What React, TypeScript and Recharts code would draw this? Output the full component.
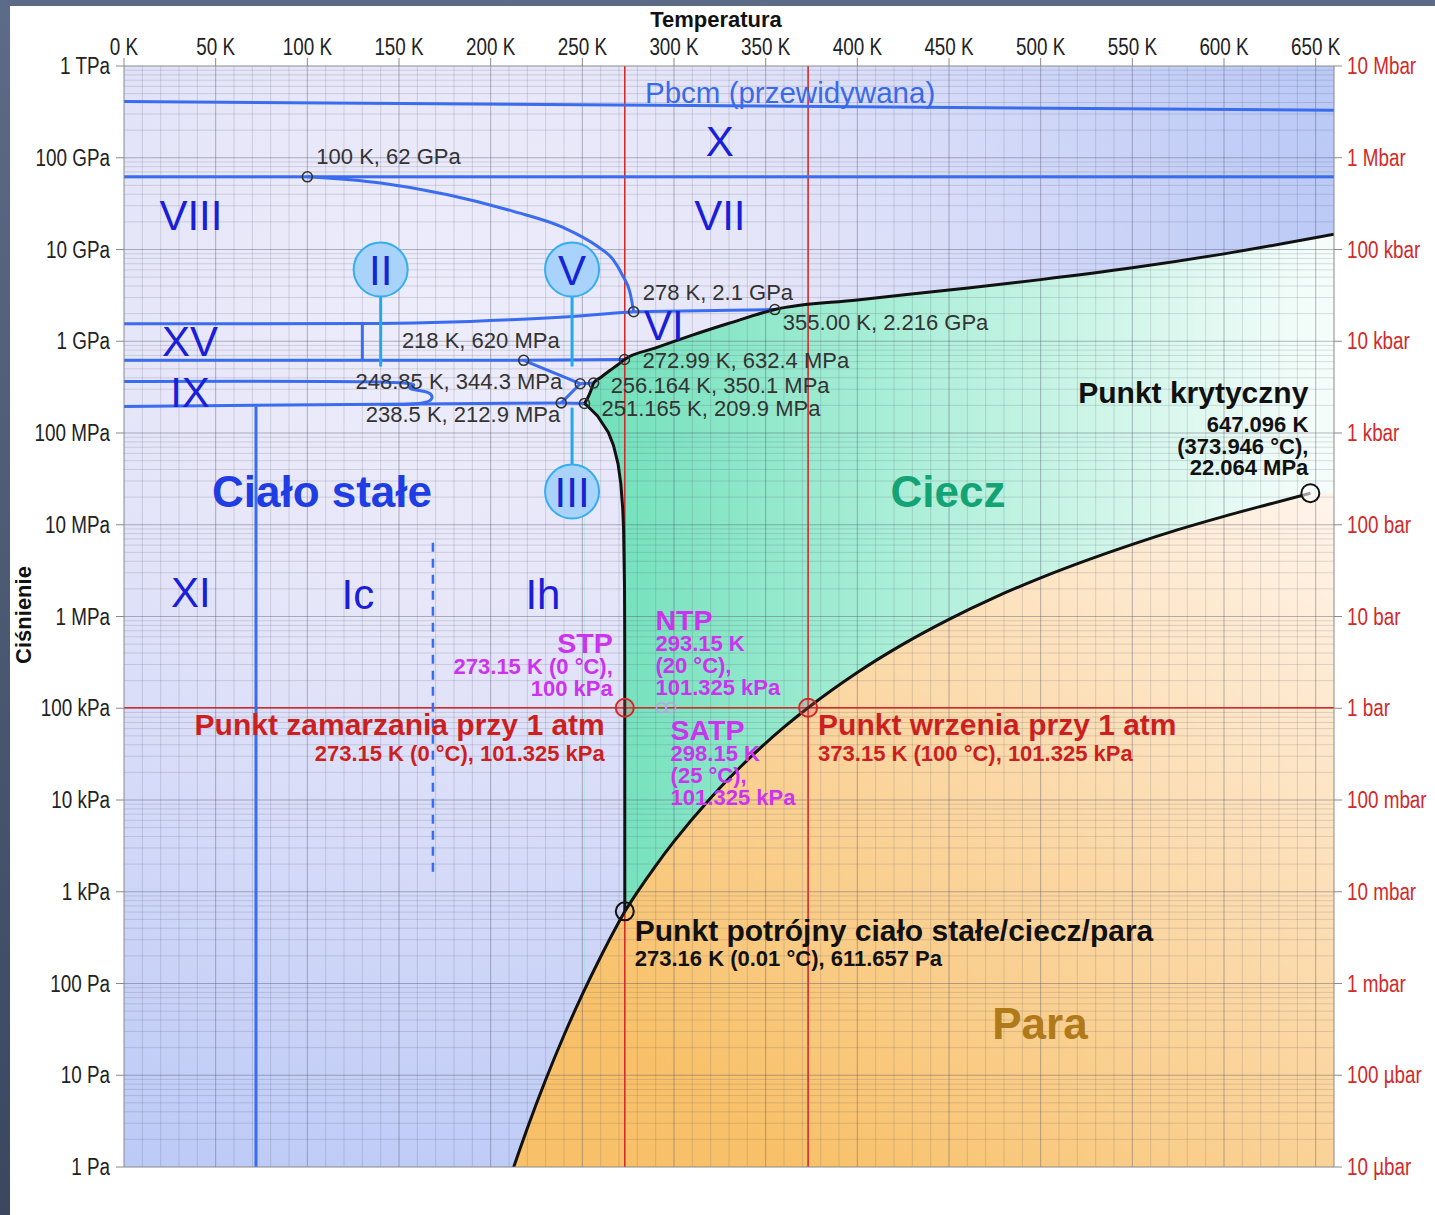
import React from "react";
import {
  ComposedChart,
  XAxis,
  YAxis,
  Line,
  Area,
  Scatter,
  ReferenceLine,
  ReferenceArea,
} from "recharts";

const W = 1435;
const H = 1215;
const SANS = '"Liberation Sans", Arial, sans-serif';

// axes: temperature in K (top) and °C (bottom), pressure in Pa (left) and bar (right)
const kelvinTicks = [0, 50, 100, 150, 200, 250, 300, 350, 400, 450, 500, 550, 600, 650];
const celsiusTicks = [-250, -200, -150, -100, -50, 0, 50, 100, 150, 200, 250, 300, 350];
const pascalTicks = [1, 1e1, 1e2, 1e3, 1e4, 1e5, 1e6, 1e7, 1e8, 1e9, 1e10, 1e11, 1e12];
const pascalLabels = [
  "1 Pa", "10 Pa", "100 Pa", "1 kPa", "10 kPa", "100 kPa", "1 MPa",
  "10 MPa", "100 MPa", "1 GPa", "10 GPa", "100 GPa", "1 TPa",
];
const barTicks = [1e-5, 1e-4, 1e-3, 1e-2, 1e-1, 1, 1e1, 1e2, 1e3, 1e4, 1e5, 1e6, 1e7];
const barLabels = [
  "10 µbar", "100 µbar", "1 mbar", "10 mbar", "100 mbar", "1 bar", "10 bar",
  "100 bar", "1 kbar", "10 kbar", "100 kbar", "1 Mbar", "10 Mbar",
];

// ice Ih sublimation curve (t in K, p in Pa)
const sublimationCurve = [
  { t: 200, p: 0.162 },
  { t: 210, p: 0.701 },
  { t: 220, p: 2.65 },
  { t: 230, p: 8.94 },
  { t: 240, p: 27.3 },
  { t: 250, p: 76.0 },
  { t: 260, p: 195.8 },
  { t: 270, p: 470.1 },
  { t: 273.16, p: 611.657 },
];

// liquid / vapour curve up to the critical point
const boilingCurve = [
  { t: 273.16, p: 611.657 },
  { t: 280, p: 991.8 },
  { t: 290, p: 1920 },
  { t: 300, p: 3537 },
  { t: 320, p: 10546 },
  { t: 340, p: 27188 },
  { t: 360, p: 62194 },
  { t: 373.15, p: 101325 },
  { t: 400, p: 245770 },
  { t: 425, p: 500280 },
  { t: 450, p: 932200 },
  { t: 475, p: 1.6175e6 },
  { t: 500, p: 2.6392e6 },
  { t: 525, p: 4.0927e6 },
  { t: 550, p: 6.1172e6 },
  { t: 575, p: 8.8428e6 },
  { t: 600, p: 12.345e6 },
  { t: 625, p: 16.84e6 },
  { t: 647.096, p: 22.064e6 },
];
const supercriticalEdge = [{ t: 660, p: 22.064e6 }];

// melting curve of ice Ih, from the III triple point down to the solid/liquid/vapour point
const meltIh = [
  { t: 251.165, p: 209.9e6 },
  { t: 252.4, p: 200.5e6 },
  { t: 258.3, p: 153.7e6 },
  { t: 264.2, p: 101.4e6 },
  { t: 267.0, p: 73.3e6 },
  { t: 269.5, p: 45.8e6 },
  { t: 271.0, p: 27.9e6 },
  { t: 272.0, p: 15.3e6 },
  { t: 272.5, p: 8.82e6 },
  { t: 273.0, p: 2.16e6 },
  { t: 273.1, p: 0.814e6 },
  { t: 273.15, p: 101325 },
  { t: 273.16, p: 611.657 },
];

// melting curves of ices III, V, VI, VII
const meltIII = [
  { t: 251.165, p: 209.9e6 },
  { t: 253, p: 242.8e6 },
  { t: 254, p: 268.7e6 },
  { t: 255, p: 301.3e6 },
  { t: 256.164, p: 350.1e6 },
];
const meltV = [
  { t: 260, p: 402.6e6 },
  { t: 265, p: 479.6e6 },
  { t: 270, p: 567.6e6 },
  { t: 272.99, p: 632.4e6 },
];
const meltVI = [
  { t: 290, p: 845.5e6 },
  { t: 310, p: 1.166e9 },
  { t: 330, p: 1.57e9 },
  { t: 355, p: 2.216e9 },
];
const meltVII = [
  { t: 400, p: 2.817e9 },
  { t: 450, p: 3.619e9 },
  { t: 500, p: 4.696e9 },
  { t: 550, p: 6.309e9 },
  { t: 600, p: 8.964e9 },
  { t: 660, p: 14.67e9 },
];
const liquidTop = [...meltIII, ...meltV, ...meltVI, ...meltVII];
const vaporTop = [...sublimationCurve, ...boilingCurve.slice(1), ...supercriticalEdge];

// solid–solid boundaries
const pbcmBoundary = [{ t: 0, p: 4.1e11 }, { t: 660, p: 3.3e11 }];
const xViiBoundary = [{ t: 0, p: 62e9 }, { t: 660, p: 62e9 }];
const viiiViiCurve = [
  { t: 100, p: 62e9 },
  { t: 140, p: 53e9 },
  { t: 176, p: 39.8e9 },
  { t: 212, p: 26.2e9 },
  { t: 239.5, p: 17.4e9 },
  { t: 258, p: 10.9e9 },
  { t: 266.7, p: 7.8e9 },
  { t: 272.2, p: 5.1e9 },
  { t: 276, p: 3.4e9 },
  { t: 278, p: 2.1e9 },
];
const viiiViBoundary = [
  { t: 0, p: 1.55e9 },
  { t: 130, p: 1.56e9 },
  { t: 211, p: 1.72e9 },
  { t: 250, p: 1.9e9 },
  { t: 268, p: 2.03e9 },
  { t: 278, p: 2.1e9 },
];
const viViiBoundary = [{ t: 278, p: 2.1e9 }, { t: 355, p: 2.216e9 }];
const xvEdge = [{ t: 130, p: 1.56e9 }, { t: 130, p: 620e6 }];
const xvViBoundary = [{ t: 0, p: 620e6 }, { t: 218, p: 620e6 }, { t: 272.99, p: 632.4e6 }];
const iiVBoundary = [{ t: 218, p: 620e6 }, { t: 248.85, p: 344.3e6 }];
const iiiVBoundary = [{ t: 248.85, p: 344.3e6 }, { t: 256.164, p: 350.1e6 }];
const iiIiiBoundary = [{ t: 248.85, p: 344.3e6 }, { t: 238.5, p: 212.9e6 }];
const ihIiiBoundary = [{ t: 238.5, p: 212.9e6 }, { t: 251.165, p: 209.9e6 }];
const ihIiBoundary = [{ t: 0, p: 195e6 }, { t: 238.5, p: 212.9e6 }];
const ixIiBoundary = [
  { t: 0, p: 365e6 },
  { t: 140, p: 360e6 },
  { t: 156, p: 313e6 },
  { t: 164, p: 283e6 },
  { t: 168, p: 243e6 },
  { t: 164, p: 215e6 },
  { t: 153, p: 205e6 },
  { t: 140, p: 204e6 },
];
const xiIhBoundary = [{ t: 72, p: 0.5 }, { t: 72, p: 196e6 }];
const icIhBoundary = [{ t: 168.5, p: 1.65e3 }, { t: 168.5, p: 6.9e6 }];

// pointer stems of the circled phase names
const iiStem = [{ t: 140, p: 3.07e9 }, { t: 140, p: 530e6 }];
const vStem = [{ t: 244.4, p: 3.07e9 }, { t: 244.4, p: 530e6 }];
const iiiStem = [{ t: 244.4, p: 189e6 }, { t: 244.4, p: 40e6 }];

// marked points
const phasePoints = [
  { t: 100, p: 62e9 },
  { t: 278, p: 2.1e9 },
  { t: 355, p: 2.216e9 },
  { t: 218, p: 620e6 },
  { t: 272.99, p: 632.4e6 },
  { t: 248.85, p: 344.3e6 },
  { t: 256.164, p: 350.1e6 },
  { t: 238.5, p: 212.9e6 },
  { t: 251.165, p: 209.9e6 },
];
const triplePoint = [{ t: 273.16, p: 611.657 }];
const criticalPoint = [{ t: 647.096, p: 22.064e6 }];
const atmPoints = [{ t: 273.15, p: 101325 }, { t: 373.15, p: 101325 }];
const referenceStates = [{ t: 293.15, p: 101325 }, { t: 298.15, p: 101325 }];
const circledPhases = [
  { t: 140, p: 6.05e9, label: "II" },
  { t: 244.4, p: 6.05e9, label: "V" },
  { t: 244.4, p: 23e6, label: "III" },
];

// grid positions
const minorK = Array.from({ length: 65 }, (_, i) => (i + 1) * 10).filter((t) => t % 50 !== 0);
const majorK = kelvinTicks.slice(1);
const minorPa: number[] = [];
for (let e = 0; e < 12; e++) for (let k = 2; k <= 9; k++) minorPa.push(k * 10 ** e);
const majorPa = pascalTicks.slice(1, -1);

type NoteLine = { text: string; dy: number; size: number; bold?: boolean };
type Note = {
  t: number;
  p: number;
  dx: number;
  anchor: "start" | "middle" | "end";
  color: string;
  lines: NoteLine[];
};

const PHASE = "#1a1ed8";
const MAGENTA = "#cc33ee";
const RED = "#cc1f1f";

const notes: Note[] = [
  { t: 325, p: 1.5e11, dx: 0, anchor: "middle", color: PHASE, lines: [{ text: "X", dy: 0, size: 42 }] },
  { t: 36.5, p: 2.35e10, dx: 0, anchor: "middle", color: PHASE, lines: [{ text: "VIII", dy: 0, size: 42 }] },
  { t: 325, p: 2.35e10, dx: 0, anchor: "middle", color: PHASE, lines: [{ text: "VII", dy: 0, size: 42 }] },
  { t: 294.5, p: 1.48e9, dx: 0, anchor: "middle", color: PHASE, lines: [{ text: "VI", dy: 0, size: 42 }] },
  { t: 36, p: 9.9e8, dx: 0, anchor: "middle", color: PHASE, lines: [{ text: "XV", dy: 0, size: 42 }] },
  { t: 36, p: 2.76e8, dx: 0, anchor: "middle", color: PHASE, lines: [{ text: "IX", dy: 0, size: 42 }] },
  { t: 36.5, p: 1.82e6, dx: 0, anchor: "middle", color: PHASE, lines: [{ text: "XI", dy: 0, size: 42 }] },
  { t: 127.6, p: 1.73e6, dx: 0, anchor: "middle", color: PHASE, lines: [{ text: "Ic", dy: 0, size: 42 }] },
  { t: 228.5, p: 1.73e6, dx: 0, anchor: "middle", color: PHASE, lines: [{ text: "Ih", dy: 0, size: 42 }] },
  { t: 284.2, p: 5.15e11, dx: 0, anchor: "start", color: "#3a6ae8", lines: [{ text: "Pbcm (przewidywana)", dy: 0, size: 29.5 }] },
  { t: 108, p: 2.3e7, dx: 0, anchor: "middle", color: "#1f3de2", lines: [{ text: "Ciało stałe", dy: 0, size: 44, bold: true }] },
  { t: 449.5, p: 2.3e7, dx: 0, anchor: "middle", color: "#14a374", lines: [{ text: "Ciecz", dy: 0, size: 44, bold: true }] },
  { t: 499.6, p: 37, dx: 0, anchor: "middle", color: "#b07a1a", lines: [{ text: "Para", dy: 0, size: 44, bold: true }] },

  { t: 100, p: 62e9, dx: 9, anchor: "start", color: "#333", lines: [{ text: "100 K, 62 GPa", dy: -20, size: 22 }] },
  { t: 278, p: 2.1e9, dx: 9, anchor: "start", color: "#333", lines: [{ text: "278 K, 2.1 GPa", dy: -19, size: 22 }] },
  { t: 355, p: 2.216e9, dx: 8, anchor: "start", color: "#333", lines: [{ text: "355.00 K, 2.216 GPa", dy: 13, size: 22 }] },
  { t: 218, p: 620e6, dx: 36, anchor: "end", color: "#333", lines: [{ text: "218 K, 620 MPa", dy: -20, size: 22 }] },
  { t: 272.99, p: 632.4e6, dx: 18, anchor: "start", color: "#333", lines: [{ text: "272.99 K, 632.4 MPa", dy: 1, size: 22 }] },
  { t: 248.85, p: 344.3e6, dx: -18, anchor: "end", color: "#333", lines: [{ text: "248.85 K, 344.3 MPa", dy: -2, size: 22 }] },
  { t: 256.164, p: 350.1e6, dx: 17, anchor: "start", color: "#333", lines: [{ text: "256.164 K, 350.1 MPa", dy: 2, size: 22 }] },
  { t: 238.5, p: 212.9e6, dx: -1, anchor: "end", color: "#333", lines: [{ text: "238.5 K, 212.9 MPa", dy: 12, size: 22 }] },
  { t: 251.165, p: 209.9e6, dx: 17, anchor: "start", color: "#333", lines: [{ text: "251.165 K, 209.9 MPa", dy: 5, size: 22 }] },

  {
    t: 273.15, p: 1e5, dx: -12, anchor: "end", color: MAGENTA,
    lines: [
      { text: "STP", dy: -65, size: 28.5, bold: true },
      { text: "273.15 K (0 °C),", dy: -42, size: 22, bold: true },
      { text: "100 kPa", dy: -20, size: 22, bold: true },
    ],
  },
  {
    t: 293.15, p: 101325, dx: -6, anchor: "start", color: MAGENTA,
    lines: [
      { text: "NTP", dy: -88, size: 28.5, bold: true },
      { text: "293.15 K", dy: -64, size: 22, bold: true },
      { text: "(20 °C),", dy: -42, size: 22, bold: true },
      { text: "101.325 kPa", dy: -20, size: 22, bold: true },
    ],
  },
  {
    t: 298.15, p: 101325, dx: 0, anchor: "start", color: MAGENTA,
    lines: [
      { text: "SATP", dy: 22, size: 28.5, bold: true },
      { text: "298.15 K", dy: 46, size: 22, bold: true },
      { text: "(25 °C),", dy: 68, size: 22, bold: true },
      { text: "101.325 kPa", dy: 90, size: 22, bold: true },
    ],
  },
  {
    t: 273.15, p: 101325, dx: -20, anchor: "end", color: RED,
    lines: [
      { text: "Punkt zamarzania przy 1 atm", dy: 17, size: 30, bold: true },
      { text: "273.15 K (0 °C), 101.325 kPa", dy: 46, size: 22, bold: true },
    ],
  },
  {
    t: 373.15, p: 101325, dx: 10, anchor: "start", color: RED,
    lines: [
      { text: "Punkt wrzenia przy 1 atm", dy: 17, size: 30, bold: true },
      { text: "373.15 K (100 °C), 101.325 kPa", dy: 46, size: 22, bold: true },
    ],
  },
  {
    t: 273.16, p: 611.657, dx: 10, anchor: "start", color: "#111",
    lines: [
      { text: "Punkt potrójny ciało stałe/ciecz/para", dy: 19, size: 30, bold: true },
      { text: "273.16 K (0.01 °C), 611.657 Pa", dy: 47, size: 22, bold: true },
    ],
  },
  {
    t: 647.096, p: 22.064e6, dx: -2, anchor: "end", color: "#111",
    lines: [
      { text: "Punkt krytyczny", dy: -101, size: 30, bold: true },
      { text: "647.096 K", dy: -69, size: 22, bold: true },
      { text: "(373.946 °C),", dy: -47, size: 22, bold: true },
      { text: "22.064 MPa", dy: -26, size: 22, bold: true },
    ],
  },
];

const NoteMark = (props: any) => {
  const { cx, cy, payload } = props;
  const n: Note = payload;
  return (
    <g>
      {n.lines.map((l, i) => (
        <text
          key={i}
          x={cx + n.dx}
          y={cy + l.dy}
          textAnchor={n.anchor}
          dominantBaseline="central"
          fontSize={l.size}
          fontWeight={l.bold ? 700 : 400}
          fontFamily={SANS}
          fill={n.color}
        >
          {l.text}
        </text>
      ))}
    </g>
  );
};

const ring = (r: number, stroke: string, fill: string, sw: number) => (props: any) => (
  <circle cx={props.cx} cy={props.cy} r={r} stroke={stroke} fill={fill} strokeWidth={sw} />
);

const CircledPhase = (props: any) => (
  <g>
    <circle cx={props.cx} cy={props.cy} r={27} fill="#a9d3fa" stroke="#35aef0" strokeWidth={2} />
    <text
      x={props.cx}
      y={props.cy + 1}
      textAnchor="middle"
      dominantBaseline="central"
      fontSize={42}
      fontFamily={SANS}
      fill="#1524d6"
    >
      {props.payload.label}
    </text>
  </g>
);

// condensed tick text, squeezed horizontally around its anchor
const TickText = ({ x, y, anchor, fill, baseline, children }: any) => (
  <text
    transform={`translate(${x},${y}) scale(0.82,1)`}
    x={0}
    y={0}
    textAnchor={anchor}
    dominantBaseline={baseline}
    fontFamily={SANS}
    fontSize={23}
    fill={fill}
  >
    {children}
  </text>
);

const TopTick = ({ x, y, payload }: any) => (
  <TickText x={x} y={y} anchor="middle" baseline="auto" fill="#222">
    {`${payload.value} K`}
  </TickText>
);
const BottomTick = ({ x, y, payload }: any) => (
  <TickText x={x} y={y + 18} anchor="middle" baseline="auto" fill="#d02a2a">
    {`${payload.value < 0 ? "−" + Math.abs(payload.value) : payload.value} °C`}
  </TickText>
);
const LeftTick = ({ x, y, payload }: any) => (
  <TickText x={x} y={y} anchor="end" baseline="central" fill="#222">
    {pascalLabels[Math.round(Math.log10(payload.value))]}
  </TickText>
);
const RightTick = ({ x, y, payload }: any) => (
  <TickText x={x} y={y} anchor="start" baseline="central" fill="#d02a2a">
    {barLabels[Math.round(Math.log10(payload.value)) + 5]}
  </TickText>
);

const axisIds = { xAxisId: "k", yAxisId: "p" };
const BLUE = "#3a6cf0";
const CYAN = "#22a8ee";

export default function App() {
  const blue = (data: { t: number; p: number }[], key: string, type: any = "linear", extra: any = {}) => (
    <Line
      key={key}
      {...axisIds}
      data={data}
      dataKey="p"
      type={type}
      stroke={BLUE}
      strokeWidth={3}
      dot={false}
      activeDot={false}
      isAnimationActive={false}
      {...extra}
    />
  );

  return (
    <div
      style={{
        position: "absolute",
        left: 0,
        top: 0,
        width: W,
        height: H,
        overflow: "hidden",
        background: "linear-gradient(180deg, #5c6b87 0%, #3a475f 100%)",
      }}
    >
      <div style={{ position: "absolute", left: 10, top: 6, width: W - 10, height: H - 6, background: "#fff" }} />
      <svg width={0} height={0} style={{ position: "absolute" }}>
        <defs>
          <radialGradient id="solidBg" gradientUnits="userSpaceOnUse" cx={440} cy={320} r={1050}>
            <stop offset="0" stopColor="#eeedfb" />
            <stop offset="0.3" stopColor="#e6e6f9" />
            <stop offset="0.55" stopColor="#d3d9f8" />
            <stop offset="0.85" stopColor="#bccaf6" />
            <stop offset="1" stopColor="#b3c5f5" />
          </radialGradient>
          <linearGradient id="liquidFill" gradientUnits="userSpaceOnUse" x1={600} y1={0} x2={1320} y2={0}>
            <stop offset="0" stopColor="#72e0bb" />
            <stop offset="0.4" stopColor="#a9eed7" />
            <stop offset="1" stopColor="#f5fdfa" />
          </linearGradient>
          <linearGradient id="vaporFill" gradientUnits="userSpaceOnUse" x1={800} y1={1167} x2={1310} y2={490}>
            <stop offset="0" stopColor="#f8c169" />
            <stop offset="0.5" stopColor="#fbd8a6" />
            <stop offset="1" stopColor="#fff4ea" />
          </linearGradient>
        </defs>
      </svg>

      <div style={{ position: "absolute", left: 0, top: 0 }}>
        <ComposedChart width={W} height={H} margin={{ top: 36, right: 1, bottom: 18, left: 24 }}>
          <XAxis
            xAxisId="k"
            dataKey="t"
            type="number"
            orientation="top"
            domain={[0, 660]}
            ticks={kelvinTicks}
            interval={0}
            allowDataOverflow
            height={30}
            tickSize={8}
            tickMargin={3}
            stroke="#8a8a8a"
            tick={(p: any) => <TopTick {...p} />}
          />
          <XAxis
            xAxisId="c"
            type="number"
            orientation="bottom"
            domain={[-273.15, 386.85]}
            ticks={celsiusTicks}
            interval={0}
            allowDataOverflow
            height={30}
            tickSize={8}
            tickMargin={3}
            stroke="#8a8a8a"
            tickLine={{ stroke: "#d02a2a" }}
            tick={(p: any) => <BottomTick {...p} />}
          />
          <YAxis
            yAxisId="p"
            type="number"
            scale="log"
            orientation="left"
            domain={[1, 1e12]}
            ticks={pascalTicks}
            interval={0}
            allowDataOverflow
            width={100}
            tickSize={8}
            tickMargin={6}
            stroke="#8a8a8a"
            tick={(p: any) => <LeftTick {...p} />}
          />
          <YAxis
            yAxisId="bar"
            type="number"
            scale="log"
            orientation="right"
            domain={[1e-5, 1e7]}
            ticks={barTicks}
            interval={0}
            allowDataOverflow
            width={100}
            tickSize={8}
            tickMargin={5}
            stroke="#8a8a8a"
            tick={(p: any) => <RightTick {...p} />}
          />

          {/* phase regions */}
          <ReferenceArea {...axisIds} x1={0} x2={660} y1={1} y2={1e12} fill="url(#solidBg)" fillOpacity={1} stroke="none" ifOverflow="hidden" />
          <Area {...axisIds} data={liquidTop} dataKey="p" type="monotone" baseValue={1} fill="url(#liquidFill)" fillOpacity={1} stroke="none" isAnimationActive={false} activeDot={false} />
          <Area {...axisIds} data={meltIh} dataKey="p" type="linear" baseValue={1} fill="url(#solidBg)" fillOpacity={1} stroke="url(#solidBg)" strokeWidth={2} isAnimationActive={false} activeDot={false} />
          <Area {...axisIds} data={vaporTop} dataKey="p" type="monotone" baseValue={1} fill="url(#vaporFill)" fillOpacity={1} stroke="none" isAnimationActive={false} activeDot={false} />

          {/* grid */}
          {minorK.map((t) => (
            <ReferenceLine key={`mk${t}`} {...axisIds} x={t} stroke="#4d4d66" strokeOpacity={0.18} strokeWidth={1} />
          ))}
          {minorPa.map((p) => (
            <ReferenceLine key={`mp${p}`} {...axisIds} y={p} stroke="#4d4d66" strokeOpacity={0.18} strokeWidth={1} />
          ))}
          {majorK.map((t) => (
            <ReferenceLine key={`Mk${t}`} {...axisIds} x={t} stroke="#4d4d66" strokeOpacity={0.4} strokeWidth={1} />
          ))}
          {majorPa.map((p) => (
            <ReferenceLine key={`Mp${p}`} {...axisIds} y={p} stroke="#4d4d66" strokeOpacity={0.4} strokeWidth={1} />
          ))}

          {/* 0 °C, 100 °C and 1 atm */}
          <ReferenceLine {...axisIds} x={273.15} stroke="#d42a2a" strokeWidth={1.6} />
          <ReferenceLine {...axisIds} x={373.15} stroke="#d42a2a" strokeWidth={1.6} />
          <ReferenceLine {...axisIds} y={101325} stroke="#d42a2a" strokeWidth={1.6} />

          {/* solid phase boundaries */}
          {blue(pbcmBoundary, "pbcm")}
          {blue(xViiBoundary, "xvii")}
          {blue(viiiViiCurve, "viiivii", "monotone")}
          {blue(viiiViBoundary, "viiivi", "monotone")}
          {blue(viViiBoundary, "vivii")}
          {blue(xvEdge, "xv")}
          {blue(xvViBoundary, "xvvi")}
          {blue(iiVBoundary, "iiv")}
          {blue(iiiVBoundary, "iiiv")}
          {blue(iiIiiBoundary, "iiiii")}
          {blue(ihIiiBoundary, "ihiii")}
          {blue(ihIiBoundary, "ihii")}
          {blue(ixIiBoundary, "ixii", "natural")}
          {blue(xiIhBoundary, "xiih")}
          {blue(icIhBoundary, "icih", "linear", { strokeDasharray: "9 7", strokeWidth: 2.5 })}
          {[iiStem, vStem, iiiStem].map((d, i) => (
            <Line key={`stem${i}`} {...axisIds} data={d} dataKey="p" stroke={CYAN} strokeWidth={3} dot={false} activeDot={false} isAnimationActive={false} />
          ))}

          {/* solid / liquid / vapour boundaries */}
          <Line {...axisIds} data={sublimationCurve} dataKey="p" type="monotone" stroke="#111" strokeWidth={3} dot={false} activeDot={false} isAnimationActive={false} />
          <Line {...axisIds} data={boilingCurve} dataKey="p" type="monotone" stroke="#111" strokeWidth={3} dot={false} activeDot={false} isAnimationActive={false} />
          <Line {...axisIds} data={meltIh} dataKey="p" type="linear" stroke="#111" strokeWidth={3} dot={false} activeDot={false} isAnimationActive={false} />
          <Line {...axisIds} data={liquidTop} dataKey="p" type="monotone" stroke="#111" strokeWidth={3} dot={false} activeDot={false} isAnimationActive={false} />

          {/* markers */}
          <Scatter {...axisIds} data={phasePoints} dataKey="p" shape={ring(5, "#333", "none", 1.6)} isAnimationActive={false} />
          <Scatter {...axisIds} data={referenceStates} dataKey="p" shape={ring(5, "#b9a3e6", "none", 1.6)} isAnimationActive={false} />
          <Scatter {...axisIds} data={atmPoints} dataKey="p" shape={ring(9, "#cc2a2a", "rgba(230,90,90,0.25)", 2)} isAnimationActive={false} />
          <Scatter {...axisIds} data={triplePoint} dataKey="p" shape={ring(9, "#111", "none", 2)} isAnimationActive={false} />
          <Scatter {...axisIds} data={criticalPoint} dataKey="p" shape={ring(9, "#111", "rgba(255,255,255,0.6)", 2)} isAnimationActive={false} />
          <Scatter {...axisIds} data={circledPhases} dataKey="p" shape={(p: any) => <CircledPhase {...p} />} isAnimationActive={false} />
          <Scatter {...axisIds} data={notes} dataKey="p" shape={(p: any) => <NoteMark {...p} />} isAnimationActive={false} />
        </ComposedChart>
      </div>

      <div
        style={{
          position: "absolute",
          left: 716,
          top: 20,
          transform: "translate(-50%, -50%)",
          font: `bold 22px ${SANS}`,
          color: "#111",
          whiteSpace: "nowrap",
        }}
      >
        Temperatura
      </div>
      <div
        style={{
          position: "absolute",
          left: 24,
          top: 615,
          transform: "translate(-50%, -50%) rotate(-90deg)",
          font: `bold 22px ${SANS}`,
          color: "#111",
          whiteSpace: "nowrap",
        }}
      >
        Ciśnienie
      </div>
    </div>
  );
}
